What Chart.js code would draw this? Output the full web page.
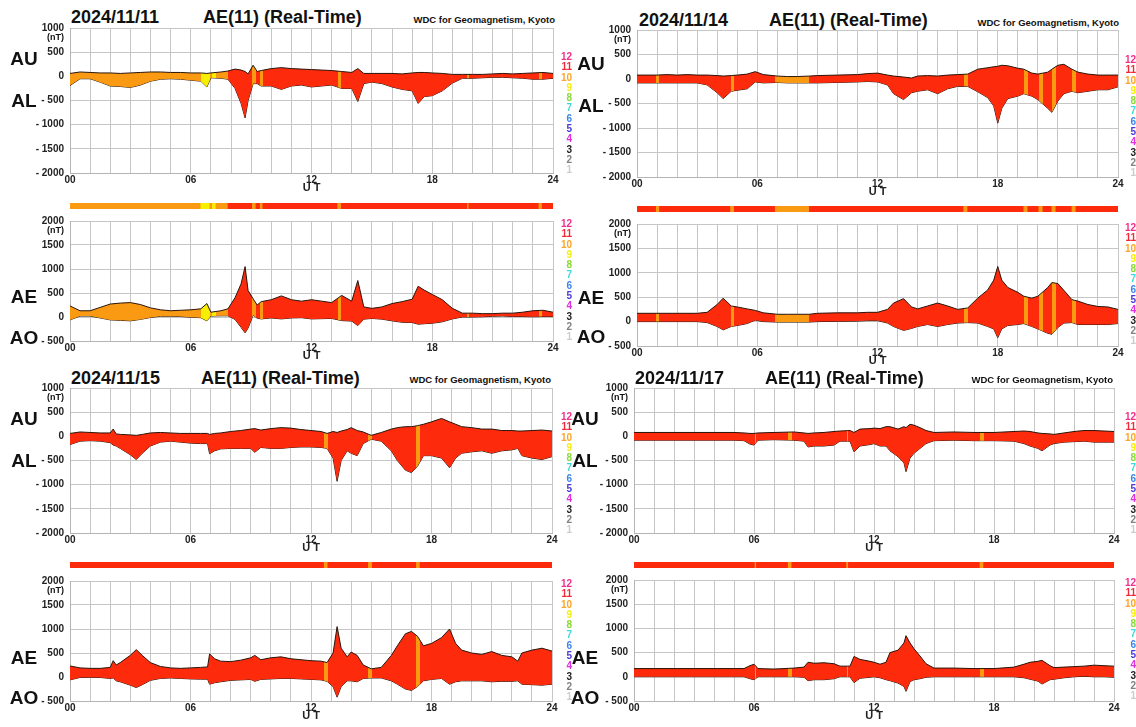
<!DOCTYPE html>
<html lang="en">
<head>
<meta charset="UTF-8">
<title>AE(11) (Real-Time)</title>
<style>
    html, body { margin: 0; padding: 0; background: #fff; }
    body {
        width: 1136px; height: 727px; position: relative; overflow: hidden;
        font-family: 'Liberation Sans', Arial, sans-serif; font-weight: bold; color: #111;
    }
    .box { position: absolute; }
    .txt { position: absolute; white-space: nowrap; line-height: 1; transform: translateY(-50%); }
    .big { font-size: 18px; }
    .wdc { font-size: 9.5px; }
    .idx { font-size: 19px; transform: translate(-50%, -50%); }
    .nt { font-size: 9px; }
    .legend { position: absolute; font-size: 10px; line-height: 10.3px; text-align: right; }
</style>
</head>
<body>
<script src="https://cdn.jsdelivr.net/npm/chart.js"></script>
<script>
    // hour tick labels on the UT axis
    const hourLabels = ['00', '06', '12', '18', '24'];
    // number of stations, legend order top to bottom
    const stationNumbers = [12, 11, 10, 9, 8, 7, 6, 5, 4, 3, 2, 1];
    const legendColors = ['#f0308a', '#f02a3a', '#fca52a', '#f4ee10', '#8ad83a', '#40d8d8',
                          '#3c86ea', '#4a38d8', '#e02ee0', '#222222', '#808080', '#cccccc'];
    const stationColors = { 9: '#f6f000', 10: '#fa9a12', 11: '#fe2a0c' };

    // 2024/11/11
    const t11 = [0, 0.5, 1, 1.5, 2, 2.5, 3, 3.5, 4, 4.5, 5, 5.5, 6, 6.5, 6.8, 7, 7.5, 7.85, 8.2, 8.5,
                 8.7, 8.85, 9.1, 9.3, 9.5, 10, 10.5, 11, 11.5, 12, 12.5, 13, 13.5, 14, 14.3, 14.6, 15, 15.5, 16, 16.5,
                 17, 17.3, 17.6, 18, 18.5, 19, 19.5, 20, 20.5, 21, 21.5, 22, 22.5, 23, 23.5, 24];
    const au11 = [60, 90, 80, 70, 70, 60, 70, 80, 90, 90, 80, 80, 70, 70, 60, 70, 90, 110, 150, 130,
                  100, 50, 230, 100, 120, 160, 180, 160, 150, 140, 130, 120, 100, 80, 160, 60, 60, 60, 60, 50,
                  70, 80, 80, 70, 60, 40, 40, 40, 40, 50, 60, 50, 60, 70, 80, 60];
    const al11 = [-190, -50, -50, -120, -200, -210, -230, -180, -100, -60, -50, -60, -80, -100, -220, -30, -40, -60, -250, -560,
                  -860, -500, -150, -150, -200, -200, -270, -200, -180, -220, -200, -180, -250, -250, -520, -150, -120, -150, -220, -270,
                  -300, -560, -420, -400, -300, -140, -40, -40, -30, -20, -20, -30, -40, -60, -60, -40];
    const ae11 = [230, 130, 130, 200, 270, 290, 300, 260, 190, 150, 130, 140, 150, 170, 280, 100, 130, 170, 400, 690,
                  1050, 550, 380, 250, 320, 360, 440, 360, 330, 360, 330, 300, 450, 330, 760, 210, 180, 210, 280, 320,
                  370, 640, 560, 470, 360, 180, 80, 80, 70, 70, 80, 80, 100, 130, 140, 100];
    const ao11 = [-60, 20, 20, -20, -60, -70, -80, -50, -10, 15, 15, 10, -5, -15, -80, 20, 25, 25, -50, -215,
                  -330, -230, 40, -25, -40, -20, -40, -20, -15, -40, -35, -30, -75, -85, -180, -45, -30, -45, -80, -110,
                  -115, -150, -140, -130, -100, -40, 0, 0, 5, 15, 20, 10, 10, 5, 10, 10];
    const st11 = [[0, 6.5, 10], [6.5, 6.95, 9], [6.95, 7.08, 10], [7.08, 7.25, 9], [7.25, 7.85, 10], [7.85, 9.06, 11],
                  [9.06, 9.24, 10], [9.24, 9.45, 11], [9.45, 9.58, 10], [9.58, 13.3, 11], [13.3, 13.48, 10], [13.48, 19.75, 11],
                  [19.75, 19.82, 10], [19.82, 23.3, 11], [23.3, 23.46, 10], [23.46, 24, 11]];

    // 2024/11/14
    const t14 = [0, 0.5, 1, 1.5, 2, 2.5, 3, 3.5, 4, 4.3, 4.7, 5, 5.5, 5.9, 6.3, 7, 7.5, 8, 8.6, 9,
                 10, 11, 11.5, 12, 12.5, 12.8, 13.3, 13.7, 14, 14.5, 15, 15.5, 16, 16.5, 17, 17.5, 17.8, 18, 18.2, 18.5,
                 19, 19.3, 19.7, 20, 20.5, 20.7, 21, 21.3, 21.7, 22, 22.5, 23, 23.5, 24];
    const au14 = [80, 80, 80, 90, 80, 90, 80, 80, 70, 60, 70, 80, 100, 150, 90, 60, 50, 50, 60, 70,
                  80, 90, 110, 120, 80, 60, 40, 20, 60, 70, 60, 80, 90, 100, 200, 230, 250, 260, 280, 270,
                  220, 200, 120, 100, 140, 200, 280, 300, 200, 140, 100, 80, 80, 80];
    const al14 = [-80, -80, -80, -80, -80, -80, -80, -120, -280, -400, -250, -230, -200, -60, -80, -70, -80, -80, -80, -80,
                  -70, -60, -50, -60, -120, -300, -420, -280, -250, -220, -300, -200, -150, -150, -260, -380, -550, -900, -600, -400,
                  -350, -300, -350, -420, -600, -680, -450, -300, -250, -280, -250, -220, -220, -160];
    const ae14 = [170, 170, 170, 170, 170, 170, 170, 190, 350, 480, 320, 300, 260, 230, 180, 150, 150, 150, 150, 170,
                  180, 180, 190, 190, 250, 380, 470, 300, 260, 320, 380, 320, 250, 280, 480, 650, 850, 1130, 850, 700,
                  600, 520, 480, 520, 700, 800, 780, 640, 450, 420, 350, 310, 300, 250];
    const ao14 = [0, 0, 0, 0, 0, 0, 0, -20, -100, -170, -100, -80, -40, 30, 0, -10, -10, -10, -10, 0,
                  5, 10, 20, 20, -30, -100, -180, -140, -100, -60, -100, -60, -30, -20, -30, -100, -150, -330, -150, -80,
                  -60, -40, -100, -150, -240, -260, -120, -30, -20, -60, -60, -60, -60, -40];
    const st14 = [[0, 0.96, 11], [0.96, 1.12, 10], [1.12, 4.67, 11], [4.67, 4.85, 10], [4.85, 6.9, 11], [6.9, 8.6, 10],
                  [8.6, 16.3, 11], [16.3, 16.5, 10], [16.5, 19.3, 11], [19.3, 19.5, 10], [19.5, 20.05, 11], [20.05, 20.25, 10],
                  [20.25, 20.7, 11], [20.7, 20.9, 10], [20.9, 21.7, 11], [21.7, 21.9, 10], [21.9, 24, 11]];

    // 2024/11/15
    const t15 = [0, 0.5, 1, 1.5, 2, 2.15, 2.3, 2.5, 3, 3.3, 3.6, 4, 4.5, 5, 5.5, 6, 6.5, 6.85, 6.95, 7.2,
                 7.5, 8, 8.5, 9, 9.2, 9.5, 10, 10.5, 11, 11.5, 12, 12.5, 12.8, 13.1, 13.3, 13.5, 13.8, 14, 14.3, 14.6,
                 15, 15.5, 16, 16.3, 16.7, 17, 17.3, 17.6, 18, 18.5, 18.9, 19.2, 19.5, 20, 20.5, 21, 21.5, 22, 22.3, 22.5,
                 23, 23.5, 24];
    const au15 = [60, 90, 80, 70, 70, 150, 50, 40, 30, 20, 40, 70, 80, 70, 60, 60, 60, 60, 40, 60,
                  70, 100, 120, 150, 160, 130, 160, 180, 170, 140, 120, 100, 60, 100, 80, 110, 140, 180, 120, 90,
                  20, 80, 150, 180, 200, 200, 220, 250, 300, 370, 300, 250, 200, 180, 150, 150, 120, 120, 110, 110,
                  120, 130, 110];
    const al15 = [-170, -100, -90, -100, -130, -180, -200, -250, -380, -480, -350, -200, -120, -100, -120, -140, -150, -150, -360, -300,
                  -260, -250, -250, -250, -330, -230, -250, -250, -230, -220, -220, -230, -250, -450, -930, -500, -300, -350, -400, -150,
                  -60, -100, -300, -500, -700, -750, -620, -400, -400, -450, -650, -450, -350, -320, -300, -350, -300, -280, -250, -400,
                  -450, -480, -420];
    const ae15 = [230, 190, 180, 180, 200, 340, 250, 300, 450, 570, 450, 300, 220, 190, 180, 190, 200, 210, 480, 380,
                  330, 320, 350, 400, 450, 360, 400, 420, 380, 360, 340, 330, 300, 500, 1050, 600, 420, 520, 450, 250,
                  170, 200, 450, 650, 900, 950, 850, 650, 700, 820, 1000, 700, 560, 500, 470, 530, 450, 420, 330, 500,
                  560, 600, 540];
    const ao15 = [-60, -10, -5, -10, -30, -20, -80, -100, -170, -220, -160, -70, -30, -20, -30, -40, -45, -45, -150, -120,
                  -100, -70, -60, -50, -90, -50, -40, -30, -30, -40, -50, -60, -90, -200, -420, -200, -80, -80, -100, -30,
                  -20, -20, -80, -150, -250, -280, -200, -80, -50, -30, -150, -100, -80, -80, -80, -100, -90, -90, -80, -150,
                  -160, -170, -150];
    const st15 = [[0, 12.66, 11], [12.66, 12.84, 10], [12.84, 14.86, 11], [14.86, 15.05, 10], [15.05, 17.25, 11],
                  [17.25, 17.43, 10], [17.43, 24, 11]];

    // 2024/11/17
    const t17 = [0, 1, 2, 3, 4, 5, 5.5, 5.8, 6, 6.2, 7, 8, 8.5, 8.7, 9, 9.5, 10, 10.3, 10.8, 11,
                 11.3, 11.8, 12, 12.3, 12.6, 12.8, 13.2, 13.5, 13.6, 13.8, 14, 14.3, 14.6, 15, 16, 17, 18, 19, 19.5, 19.8,
                 20.2, 20.4, 20.8, 21, 21.5, 22, 22.5, 23, 23.5, 24];
    const au17 = [80, 80, 80, 80, 80, 80, 70, 60, 60, 70, 80, 90, 70, 60, 70, 80, 100, 110, 120, 80,
                  150, 160, 170, 160, 200, 200, 150, 200, 180, 250, 230, 180, 120, 80, 90, 80, 80, 100, 110, 100,
                  70, 60, 50, 40, 70, 100, 120, 120, 110, 100];
    const al17 = [-80, -80, -80, -80, -80, -80, -90, -160, -180, -80, -70, -80, -100, -220, -200, -200, -180, -100, -100, -320,
                  -200, -170, -150, -200, -200, -300, -420, -550, -730, -450, -350, -250, -150, -90, -80, -90, -90, -100, -150, -200,
                  -250, -300, -180, -150, -120, -110, -100, -120, -120, -120];
    const ae17 = [170, 170, 170, 170, 170, 170, 170, 230, 260, 170, 160, 180, 200, 300, 280, 290, 270, 220, 220, 420,
                  360, 320, 300, 260, 300, 500, 550, 700, 850, 700, 580, 430, 270, 180, 180, 170, 170, 200, 260, 300,
                  320, 340, 230, 190, 200, 210, 220, 240, 230, 220];
    const ao17 = [0, 0, 0, 0, 0, 0, 0, -40, -60, 0, 0, 0, -10, -80, -60, -60, -40, 0, 0, -120,
                  -30, -10, 0, -20, -60, -80, -130, -200, -300, -100, -60, -40, -10, 0, 0, 0, 0, 0, -20, -50,
                  -90, -150, -60, -50, -20, 0, 10, 0, 0, -10];
    const st17 = [[0, 6.05, 11], [6.05, 6.12, 10], [6.12, 7.71, 11], [7.71, 7.89, 10], [7.89, 10.63, 11],
                  [10.63, 10.72, 10], [10.72, 17.3, 11], [17.3, 17.48, 10], [17.48, 24, 11]];

    // page layout: plot rectangles [left, right, top, bottom] and text anchors
    const panels = [
        { day: '2024/11/11', t: t11, au: au11, al: al11, ae: ae11, ao: ao11, st: st11,
          up: [70, 553, 28, 173], lo: [70, 553, 221, 341], bar: 203,
          dateX: 71, titleX: 203, wdcR: 555, titleY: 17, wdcY: 20,
          idxX: 24, idxY: [58, 100, 296, 337], legR: 572, legY: [52, 219] },
        { day: '2024/11/14', t: t14, au: au14, al: al14, ae: ae14, ao: ao14, st: st14,
          up: [637, 1118, 30, 177], lo: [637, 1118, 224, 346], bar: 206,
          dateX: 639, titleX: 769, wdcR: 1119, titleY: 20, wdcY: 23,
          idxX: 591, idxY: [63, 105, 297, 336], legR: 1136, legY: [55, 223] },
        { day: '2024/11/15', t: t15, au: au15, al: al15, ae: ae15, ao: ao15, st: st15,
          up: [70, 552, 388, 533], lo: [70, 552, 581, 701], bar: 562,
          dateX: 71, titleX: 201, wdcR: 551, titleY: 378, wdcY: 380,
          idxX: 24, idxY: [418, 460, 657, 697], legR: 572, legY: [412, 579] },
        { day: '2024/11/17', t: t17, au: au17, al: al17, ae: ae17, ao: ao17, st: st17,
          up: [634, 1114, 388, 533], lo: [634, 1114, 580, 701], bar: 562,
          dateX: 635, titleX: 765, wdcR: 1113, titleY: 378, wdcY: 380,
          idxX: 585, idxY: [418, 460, 657, 697], legR: 1136, legY: [412, 578] }
    ];

    Chart.defaults.font.family = "'Liberation Sans', Arial, sans-serif";
    Chart.defaults.color = '#222';

    function addText(cls, text, x, y, right) {
        const el = document.createElement('div');
        el.className = 'txt ' + cls;
        el.textContent = text;
        el.style.top = y + 'px';
        if (right) el.style.right = (1136 - x) + 'px';
        else el.style.left = x + 'px';
        document.body.appendChild(el);
        return el;
    }

    function addLegend(xRight, yTop) {
        const el = document.createElement('div');
        el.className = 'legend';
        el.style.right = (1136 - xRight) + 'px';
        el.style.top = yTop + 'px';
        el.innerHTML = stationNumbers.map((n, i) =>
            `<div style="color:${legendColors[i]}">${n}</div>`).join('');
        document.body.appendChild(el);
    }

    function makeBox(left, top, width, height) {
        const div = document.createElement('div');
        div.className = 'box';
        div.style.left = left + 'px';
        div.style.top = top + 'px';
        div.style.width = width + 'px';
        div.style.height = height + 'px';
        const cv = document.createElement('canvas');
        div.appendChild(cv);
        document.body.appendChild(div);
        return cv;
    }

    // horizontal gradient with hard stops, one band per station-count interval
    function stationFill(st) {
        return (ctx) => {
            const chart = ctx.chart;
            if (!chart.chartArea) return stationColors[11];
            const xs = chart.scales.x;
            const g = chart.ctx.createLinearGradient(xs.getPixelForValue(0), 0, xs.getPixelForValue(24), 0);
            st.forEach(([s, e, n]) => {
                g.addColorStop(s / 24, stationColors[n]);
                g.addColorStop(e / 24, stationColors[n]);
            });
            return g;
        };
    }

    function plotChart(rect, t, top, bottom, st, yMin, yMax) {
        const [l, r, tp, b] = rect;
        const cv = makeBox(l - 70, tp - 12, r - l + 90, b - tp + 34);
        const line = { borderColor: '#2a140a', borderWidth: 1, pointRadius: 0, tension: 0 };
        new Chart(cv, {
            type: 'line',
            data: {
                datasets: [
                    { ...line, data: t.map((x, i) => ({ x, y: top[i] })), fill: '+1', backgroundColor: stationFill(st) },
                    { ...line, data: t.map((x, i) => ({ x, y: bottom[i] })), fill: false }
                ]
            },
            options: {
                responsive: true,
                maintainAspectRatio: false,
                animation: false,
                layout: { padding: { top: 12, right: 20, left: 0, bottom: 0 } },
                plugins: { legend: { display: false }, tooltip: { enabled: false } },
                scales: {
                    x: {
                        type: 'linear', min: 0, max: 24,
                        afterFit: (s) => { s.height = 22; },
                        grid: { color: '#c6c6c6', drawTicks: false },
                        border: { color: '#b4b4b4' },
                        ticks: {
                            stepSize: 1, autoSkip: false, maxRotation: 0, padding: 1,
                            font: { size: 10, weight: 'bold' },
                            callback: (v) => v % 6 === 0 ? hourLabels[v / 6] : ''
                        },
                        title: { display: true, text: 'U T', font: { size: 11, weight: 'bold' }, padding: 0 }
                    },
                    y: {
                        min: yMin, max: yMax,
                        afterFit: (s) => { s.width = 70; },
                        grid: { color: '#c6c6c6', drawTicks: false },
                        border: { color: '#b4b4b4' },
                        ticks: {
                            stepSize: 500, padding: 6,
                            font: { size: 10, weight: 'bold' },
                            callback: (v) => v < 0 ? '- ' + (-v) : String(v)
                        }
                    }
                }
            }
        });
    }

    function stationBar(rect, barTop, st) {
        const [l, r] = rect;
        const cv = makeBox(l, barTop, r - l, 6);
        new Chart(cv, {
            type: 'bar',
            data: {
                labels: ['n'],
                datasets: [{
                    data: st.map(([s, e]) => ({ x: [s, e], y: 'n' })),
                    backgroundColor: st.map(([, , n]) => stationColors[n]),
                    barPercentage: 1, categoryPercentage: 1, borderWidth: 0, grouped: false
                }]
            },
            options: {
                indexAxis: 'y',
                responsive: true,
                maintainAspectRatio: false,
                animation: false,
                layout: { padding: 0 },
                plugins: { legend: { display: false }, tooltip: { enabled: false } },
                scales: {
                    x: { type: 'linear', min: 0, max: 24, display: false },
                    y: { type: 'category', display: false }
                }
            }
        });
    }

    panels.forEach((p) => {
        addText('big', p.day, p.dateX, p.titleY);
        addText('big', 'AE(11) (Real-Time)', p.titleX, p.titleY);
        addText('wdc', 'WDC for Geomagnetism, Kyoto', p.wdcR, p.wdcY, true);

        plotChart(p.up, p.t, p.au, p.al, p.st, -2000, 1000);
        stationBar(p.up, p.bar, p.st);
        plotChart(p.lo, p.t, p.ae, p.ao, p.st, -500, 2000);

        addText('nt', '(nT)', p.up[0] - 6, p.up[2] + 9, true);
        addText('nt', '(nT)', p.lo[0] - 6, p.lo[2] + 9, true);

        ['AU', 'AL', 'AE', 'AO'].forEach((name, i) => addText('idx', name, p.idxX, p.idxY[i]));
        addLegend(p.legR, p.legY[0]);
        addLegend(p.legR, p.legY[1]);
    });
</script>
</body>
</html>
